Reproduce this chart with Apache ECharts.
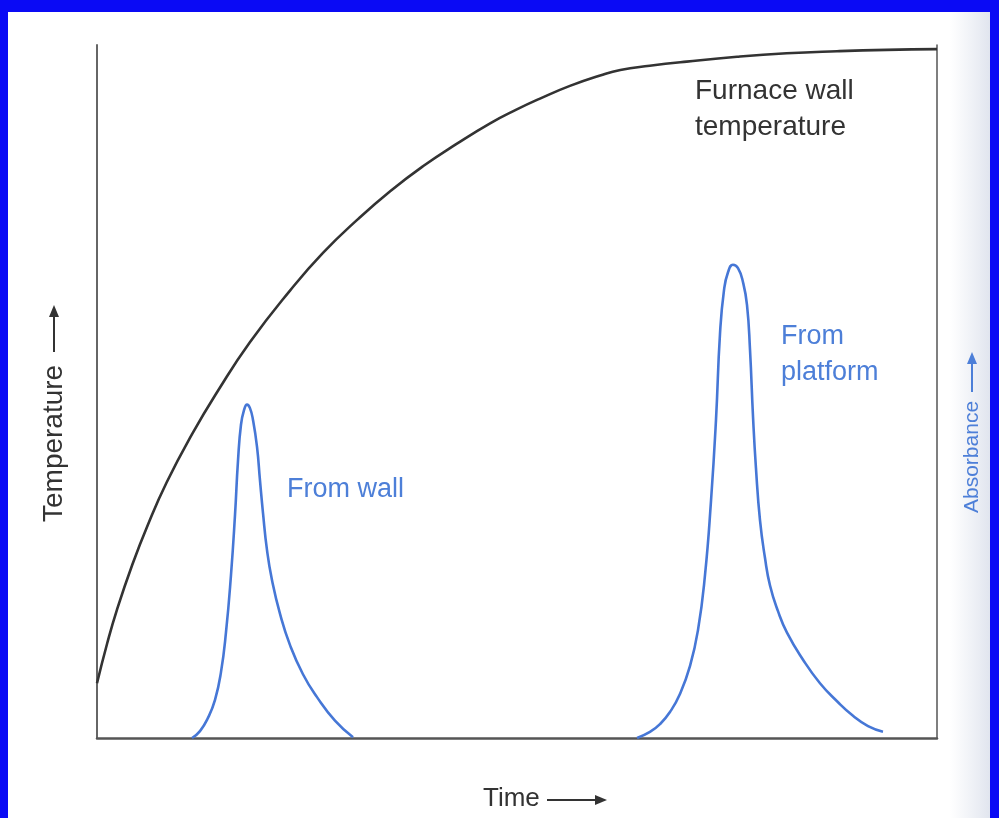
<!DOCTYPE html>
<html>
<head>
<meta charset="utf-8">
<title>Furnace wall temperature and absorbance vs time</title>
<script src="https://cdn.jsdelivr.net/npm/echarts@6/dist/echarts.min.js"></script>
<style>
  html, body { margin: 0; padding: 0; background: #ffffff; }
  #chart { width: 999px; height: 818px; }
</style>
</head>
<body>
<div id="chart"></div>
<script>
// Furnace wall temperature rising over the heating cycle (arbitrary units)
const wallTempTime = [0, 1.2, 2.4, 4.2, 6, 8.3, 11.3, 14.4, 18.2, 23, 26.9, 31, 34.9, 38.8, 42.9, 46.8, 49.8, 52.8, 56.3, 59.9, 62.3, 65.8, 70.2, 76.2, 82.1, 88.1, 94, 100];
const wallTemp     = [7.9, 13.6, 18.6, 25.0, 30.6, 36.9, 43.8, 50.1, 57.1, 64.6, 70.0, 74.8, 78.9, 82.5, 85.8, 88.7, 90.6, 92.3, 94.1, 95.6, 96.4, 97.0, 97.6, 98.3, 98.8, 99.1, 99.3, 99.4];

// Absorbance signal when the sample is atomised from the tube wall
const wallPeakTime = [11.31, 12.26, 13.21, 14.05, 14.76, 15.36, 15.95, 16.43, 16.79, 17.14, 17.5, 17.86, 18.21, 18.57, 19.05, 19.4, 19.76, 20.24, 20.83, 21.79, 22.98, 24.52, 26.19, 28.33, 30.48];
const wallPeakAbs  = [0, 1.0, 2.9, 5.5, 9.5, 15.3, 23.5, 32.2, 40.1, 45.2, 47.3, 48.1, 47.6, 45.9, 42.0, 37.2, 32.5, 27.1, 22.8, 17.9, 13.4, 9.2, 5.9, 2.5, 0.1];

// Absorbance signal when the sample is atomised from the platform
const platformPeakTime = [64.29, 65.83, 67.02, 68.21, 69.4, 70.6, 71.55, 72.38, 73.1, 73.69, 74.17, 74.64, 75.12, 75.71, 76.31, 76.9, 77.38, 77.74, 78.1, 78.45, 78.93, 79.52, 80.12, 81.07, 82.14, 84.05, 86.07, 88.1, 90.0, 91.79, 93.57];
const platformPeakAbs  = [0, 0.87, 2.0, 3.75, 6.35, 10.4, 15.6, 23.5, 34.3, 45.9, 58.4, 64.6, 67.2, 68.3, 67.8, 65.8, 62.5, 56.0, 46.3, 38.9, 31.4, 26.0, 22.0, 18.3, 15.2, 11.3, 7.9, 5.3, 3.2, 1.7, 0.9];

const zip = (xs, ys) => xs.map((x, i) => [x, ys[i]]);

const BLUE = '#4677d6';
const BLUE_TEXT = '#4d7fd8';
const INK = '#333333';
const FRAME = '#0a0af5';
const FONT = '"Liberation Sans", Arial, Helvetica, sans-serif';

const chart = echarts.init(document.getElementById('chart'), null, { renderer: 'canvas' });

const hiddenAxisBits = {
  axisTick: { show: false },
  axisLabel: { show: false },
  splitLine: { show: false }
};

// small arrow (shaft + filled head) that follows an axis title
function arrow(x1, y1, x2, y2, color) {
  const dx = x2 - x1, dy = y2 - y1;
  const len = Math.hypot(dx, dy);
  const ux = dx / len, uy = dy / len;
  const head = 12, half = 5;
  const bx = x2 - ux * head, by = y2 - uy * head;
  return {
    type: 'group', z: 50, silent: true,
    children: [
      { type: 'line', shape: { x1, y1, x2: bx + ux * 2, y2: by + uy * 2 }, style: { stroke: color, lineWidth: 2 } },
      {
        type: 'polygon',
        shape: { points: [[x2, y2], [bx - uy * half, by + ux * half], [bx + uy * half, by - ux * half]] },
        style: { fill: color }
      }
    ]
  };
}

chart.setOption({
  backgroundColor: '#ffffff',
  animation: false,
  grid: { left: 97, right: 62, top: 45, bottom: 80 },
  xAxis: {
    type: 'value', min: 0, max: 100,
    axisLine: { show: true, onZero: false, lineStyle: { color: '#555555', width: 2.5 } },
    ...hiddenAxisBits
  },
  yAxis: [
    {
      type: 'value', min: 0, max: 100, position: 'left',
      axisLine: { show: true, lineStyle: { color: '#666666', width: 2 } },
      ...hiddenAxisBits
    },
    {
      type: 'value', min: 0, max: 100, position: 'right',
      axisLine: { show: true, lineStyle: { color: '#555555', width: 1.5 } },
      ...hiddenAxisBits
    }
  ],
  series: [
    {
      name: 'Furnace wall temperature',
      type: 'line', yAxisIndex: 0,
      data: zip(wallTempTime, wallTemp),
      showSymbol: false, smooth: 0.5,
      lineStyle: { color: INK, width: 2.6 }
    },
    {
      name: 'From wall',
      type: 'line', yAxisIndex: 1,
      data: zip(wallPeakTime, wallPeakAbs),
      showSymbol: false, smooth: 0.5,
      lineStyle: { color: BLUE, width: 2.6 }
    },
    {
      name: 'From platform',
      type: 'line', yAxisIndex: 1,
      data: zip(platformPeakTime, platformPeakAbs),
      showSymbol: false, smooth: 0.5,
      lineStyle: { color: BLUE, width: 2.6 }
    }
  ],
  graphic: [
    // page edge shading on the right
    {
      type: 'rect', z: -10, silent: true,
      shape: { x: 950, y: 0, width: 45, height: 818 },
      style: {
        fill: new echarts.graphic.LinearGradient(0, 0, 1, 0, [
          { offset: 0, color: 'rgba(225,229,238,0)' },
          { offset: 1, color: 'rgba(220,225,236,1)' }
        ])
      }
    },
    // blue frame
    { type: 'rect', z: 100, silent: true, shape: { x: 0, y: 0, width: 999, height: 12 }, style: { fill: FRAME } },
    { type: 'rect', z: 100, silent: true, shape: { x: 0, y: 0, width: 8, height: 818 }, style: { fill: FRAME } },
    { type: 'rect', z: 100, silent: true, shape: { x: 990, y: 0, width: 9, height: 818 }, style: { fill: FRAME } },
    // annotations
    {
      type: 'text', x: 695, y: 73, z: 50,
      style: {
        text: 'Furnace wall\ntemperature', fill: INK,
        font: '28px ' + FONT, lineHeight: 36,
        textAlign: 'left', textVerticalAlign: 'top'
      }
    },
    {
      type: 'text', x: 287, y: 490, z: 50,
      style: { text: 'From wall', fill: BLUE_TEXT, font: '27px ' + FONT, textAlign: 'left', textVerticalAlign: 'middle' }
    },
    {
      type: 'text', x: 781, y: 319, z: 50,
      style: { text: 'From\nplatform', fill: BLUE_TEXT, font: '27px ' + FONT, lineHeight: 36, textAlign: 'left', textVerticalAlign: 'top' }
    },
    {
      type: 'text', x: 483, y: 799, z: 50,
      style: { text: 'Time', fill: INK, font: '26px ' + FONT, textAlign: 'left', textVerticalAlign: 'middle' }
    },
    arrow(547, 800, 607, 800, INK),
    {
      type: 'text', x: 54, y: 522, z: 50, rotation: Math.PI / 2,
      style: { text: 'Temperature', fill: INK, font: '28px ' + FONT, textAlign: 'left', textVerticalAlign: 'middle' }
    },
    arrow(54, 352, 54, 305, INK),
    {
      type: 'text', x: 972, y: 513, z: 50, rotation: Math.PI / 2,
      style: { text: 'Absorbance', fill: BLUE_TEXT, font: '21px ' + FONT, textAlign: 'left', textVerticalAlign: 'middle' }
    },
    arrow(972, 392, 972, 352, BLUE_TEXT)
  ]
});
</script>
</body>
</html>
